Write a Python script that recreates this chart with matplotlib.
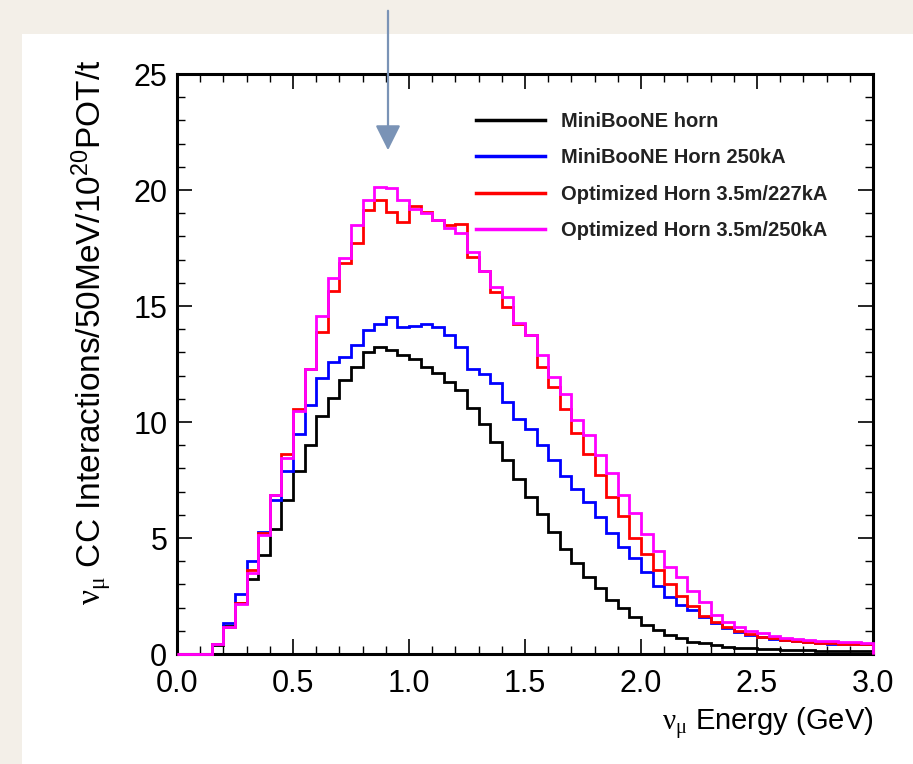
import numpy as np
import matplotlib
matplotlib.use("Agg")
import matplotlib.pyplot as plt
import matplotlib.transforms as mtransforms
from matplotlib.patches import Rectangle, FancyArrowPatch
from matplotlib.ticker import MultipleLocator

plt.rcParams['font.family'] = ['Liberation Sans', 'DejaVu Sans']
plt.rcParams['mathtext.fontset'] = 'custom'
plt.rcParams['mathtext.rm'] = 'Liberation Serif'
plt.rcParams['mathtext.it'] = 'Liberation Serif:italic'

# ---- data (50 MeV bins from 0 to 3 GeV) ----
e_min, e_max = 0.0, 3.0
labels = ["MiniBooNE horn", "MiniBooNE Horn 250kA",
          "Optimized Horn 3.5m/227kA", "Optimized Horn 3.5m/250kA"]
colors = ["#000000", "#0000ff", "#ff0000", "#ff00ff"]

miniboone = [0, 0, 0, 0.4, 1.2, 2.2, 3.22, 4.25, 5.38, 6.65,
             7.9, 9.0, 10.25, 11.05, 11.81, 12.39, 13.03, 13.25, 13.1, 12.89,
             12.7, 12.39, 12.1, 11.74, 11.4, 10.59, 9.9, 9.15, 8.36, 7.56,
             6.78, 6.03, 5.24, 4.53, 3.91, 3.3, 2.83, 2.33, 1.97, 1.61,
             1.25, 1.04, 0.82, 0.68, 0.53, 0.46, 0.39, 0.32, 0.27, 0.24,
             0.22, 0.2, 0.18, 0.17, 0.16, 0.15, 0.14, 0.13, 0.12, 0.12]

miniboone_250 = [0, 0, 0, 0.45, 1.32, 2.6, 4.0, 5.25, 6.65, 7.9,
                 9.47, 10.72, 11.88, 12.6, 12.82, 13.32, 13.97, 14.22, 14.54, 14.11,
                 14.14, 14.21, 14.11, 13.75, 13.25, 12.3, 12.05, 11.7, 10.85, 10.13,
                 9.68, 9.0, 8.36, 7.67, 7.13, 6.57, 5.92, 5.23, 4.63, 4.12,
                 3.55, 2.95, 2.47, 2.1, 1.9, 1.6, 1.35, 1.12, 0.95, 0.82,
                 0.72, 0.65, 0.6, 0.55, 0.5, 0.47, 0.45, 0.43, 0.42, 0.42]

optimized_227 = [0, 0, 0, 0.45, 1.15, 2.2, 3.62, 5.2, 6.84, 8.6,
                 10.55, 12.28, 13.87, 15.66, 16.84, 17.73, 19.14, 19.57, 19.05, 18.6,
                 19.3, 19.05, 18.71, 18.5, 18.53, 17.13, 16.5, 15.62, 14.97, 14.22,
                 13.75, 12.39, 11.5, 10.55, 9.51, 8.6, 7.72, 6.78, 5.95, 5.0,
                 4.3, 3.6, 3.0, 2.5, 2.05, 1.65, 1.4, 1.15, 0.98, 0.85,
                 0.75, 0.67, 0.6, 0.55, 0.52, 0.49, 0.47, 0.45, 0.44, 0.43]

optimized_250 = [0, 0, 0, 0.45, 1.15, 2.15, 3.5, 5.15, 6.84, 8.45,
                 10.47, 12.28, 14.58, 16.19, 17.05, 18.49, 19.57, 20.14, 20.1, 19.57,
                 19.17, 19.02, 18.71, 18.35, 18.13, 17.34, 16.5, 15.8, 15.4, 14.25,
                 13.75, 12.87, 11.95, 11.2, 10.1, 9.42, 8.58, 7.8, 6.85, 6.07,
                 5.18, 4.45, 3.77, 3.3, 2.73, 2.26, 1.68, 1.39, 1.18, 1.0,
                 0.89, 0.78, 0.7, 0.65, 0.6, 0.57, 0.54, 0.52, 0.5, 0.48]

series = [miniboone, miniboone_250, optimized_227, optimized_250]

W, H = 913, 764
fig = plt.figure(figsize=(W / 100, H / 100), dpi=100)
fig.patch.set_facecolor("#f3efe8")

# white slide panel
fig.add_artist(Rectangle((22 / W, 0), 1 - 22 / W, 1 - 34 / H,
                         transform=fig.transFigure, facecolor="white",
                         edgecolor="none", zorder=0))

ax = fig.add_axes([177 / W, 1 - 654 / H, (873 - 177) / W, (654 - 74) / H])
ax.set_facecolor("white")

edges = np.linspace(e_min, e_max, len(miniboone) + 1)
for vals, col, lab in zip(series, colors, labels):
    ax.stairs(vals, edges, color=col, linewidth=2.0, label=lab,
              zorder=3, clip_on=False)

ax.set_xlim(e_min, e_max)
ax.set_ylim(0, 25)
ax.xaxis.set_major_locator(MultipleLocator(0.5))
ax.xaxis.set_minor_locator(MultipleLocator(0.1))
ax.yaxis.set_major_locator(MultipleLocator(5))
ax.yaxis.set_minor_locator(MultipleLocator(1))
ax.xaxis.set_major_formatter(matplotlib.ticker.FormatStrFormatter('%.1f'))
ax.tick_params(which='both', direction='in', top=True, right=True,
               colors='black', labelsize=22)
ax.tick_params(which='major', length=11, width=1.2, pad=7)
ax.tick_params(which='minor', length=5.5, width=1.0)
ax.tick_params(axis='x', which='major', pad=11)
for s in ax.spines.values():
    s.set_linewidth(2.2)

ax.set_xlabel(r'$\mathrm{\nu_{\mu}}$ Energy (GeV)', fontsize=21, loc='right')
ax.xaxis.set_label_coords(1.0, -0.09)
ax.set_ylabel(r'$\mathrm{\nu_{\mu}}$ CC Interactions/50MeV/$\mathregular{10^{20}}$POT/t',
              fontsize=24, loc='top')
ax.yaxis.set_label_coords(-0.09, 1.025)

leg = ax.legend(loc='upper left', bbox_to_anchor=((476 - 177) / 696, (654 - 112) / 580),
                frameon=False, borderpad=0, borderaxespad=0,
                handlelength=3.45, handletextpad=0.75, labelspacing=0.86,
                prop={'weight': 'bold', 'size': 14.5})
for h in leg.get_lines():
    h.set_linewidth(2.5)
for t in leg.get_texts():
    t.set_color('#222222')

# nudge the "0" y tick label slightly up so it clears the "0.0" x label
fig.canvas.draw()
shift = mtransforms.ScaledTranslation(0, 5 / 100, fig.dpi_scale_trans)
ylabels = ax.get_yticklabels()
if ylabels:
    ylabels[0].set_transform(ylabels[0].get_transform() + shift)

# annotation arrow from slide
arrow = FancyArrowPatch((388 / W, 1 - 8 / H), (388 / W, 1 - 153 / H),
                        transform=fig.transFigure, arrowstyle='-|>,head_length=1.1,head_width=0.55',
                        mutation_scale=14, color='#7a93b6', linewidth=1.6, zorder=5)
fig.add_artist(arrow)

fig.savefig("out.png", dpi=100, facecolor=fig.get_facecolor())
